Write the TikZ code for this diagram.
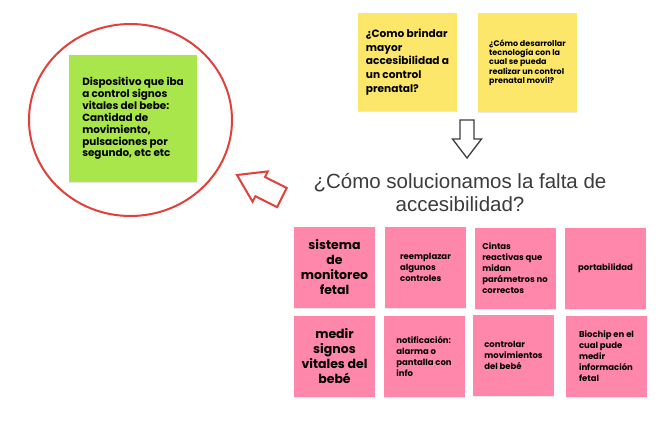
\documentclass[tikz,border=0pt]{standalone}
\usepackage{fontspec}
\setmainfont{Liberation Sans}
\newfontfamily\notefont{Poppins}
\usetikzlibrary{shadows}
\definecolor{noteyellow}{HTML}{FDE76B}
\definecolor{notegreen}{HTML}{A8E64C}
\definecolor{notepink}{HTML}{FF87AB}
\definecolor{markred}{HTML}{E2403A}
\definecolor{titlegray}{HTML}{3C3C3C}

\begin{document}
\begin{tikzpicture}[x=1pt,y=-1pt,
  note/.style={inner sep=0pt,minimum width=81pt,minimum height=81pt,align=left,
    drop shadow={opacity=0.18,shadow xshift=0pt,shadow yshift=-1.2pt},
    font=\notefont\bfseries\fontsize{8.5}{11}\selectfont},
  big note/.style={note,align=center,font=\notefont\bfseries\fontsize{12.5}{15}\selectfont},
  block arrow/.style={fill=white,line join=miter}]
  \useasboundingbox[fill=white] (0,0) rectangle (670,423);

  % circled idea
  \draw[markred,line width=2pt] (130.5,120) ellipse [x radius=101.5,y radius=96];
  \node[note,fill=notegreen,minimum width=128pt,minimum height=127pt,font=\notefont\bfseries\fontsize{10.4}{11.9}\selectfont]
    (device) at (133,118.5) {Dispositivo que iba\\a control signos\\vitales del bebe:\\Cantidad de\\movimiento,\\pulsaciones por\\segundo, etc etc};

  % questions
  \node[note,fill=noteyellow,minimum width=99pt,minimum height=98pt,font=\notefont\bfseries\fontsize{10.6}{13.75}\selectfont]
    (q1) at (407.5,62) {¿Como brindar\\mayor\\accesibilidad a\\un control\\prenatal?};
  \node[note,fill=noteyellow,minimum width=99pt,minimum height=99pt,font=\notefont\bfseries\fontsize{8}{9.3}\selectfont]
    (q2) at (527.5,62.5) {¿Cómo desarrollar\\tecnología con la\\cual se pueda\\realizar un control\\prenatal movil?};

  \draw[block arrow,draw=titlegray,line width=1.3pt]
    (460,120) -- (474,120) -- (474,139) -- (481.5,139) -- (467,158) -- (452.5,139) -- (460,139) -- cycle;

  \node[align=center,text=titlegray,font=\fontsize{20.5}{23}\selectfont] (title) at (460,193)
    {¿Cómo solucionamos la falta de\\accesibilidad?};

  \draw[block arrow,draw=markred,line width=2pt]
    (237,175) -- (267.8,171.4) -- (265,177) -- (286.7,187.9) -- (277.1,207.1) -- (255.4,196.2) -- (252.6,201.8) -- cycle;

  % ideas
  \node[big note,fill=notepink] (s1) at (334.5,267.5) {sistema\\de\\monitoreo\\fetal};
  \node[note,fill=notepink] (s2) at (425.5,267) {reemplazar\\algunos\\controles};
  \node[note,fill=notepink] (s3) at (515,268) {Cintas\\reactivas que\\midan\\parámetros no\\correctos};
  \node[note,fill=notepink] (s4) at (605.5,268) {portabilidad};
  \node[big note,fill=notepink] (s5) at (334.5,356) {medir\\signos\\vitales del\\bebé};
  \node[note,fill=notepink] (s6) at (424,356) {notificación:\\alarma o\\pantalla con\\info};
  \node[note,fill=notepink] (s7) at (513.5,355) {controlar\\movimientos\\del bebé};
  \node[note,fill=notepink] (s8) at (606.5,356) {Biochip en el\\cual pude\\medir\\información\\fetal};
\end{tikzpicture}
\end{document}
